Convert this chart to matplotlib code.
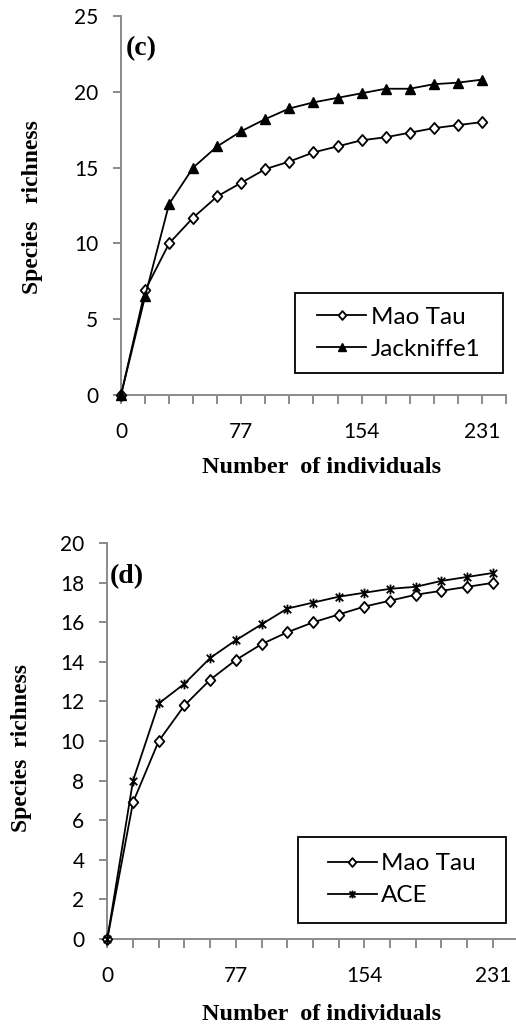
import matplotlib.pyplot as plt
from matplotlib.path import Path
from matplotlib.patches import Rectangle
from matplotlib.ticker import FixedLocator
import numpy as np

# Number of individuals (category positions on the x axis)
individuals = [0, 15.4, 30.8, 46.2, 61.6, 77, 92.4, 107.8, 123.2, 138.6,
               154, 169.4, 184.8, 200.2, 215.6, 231]
x_tick_labels = ["0", "77", "154", "231"]

# panel (c)
mao_tau_c = [0, 6.9, 10.0, 11.7, 13.1, 14.0, 14.9, 15.4, 16.0, 16.4,
             16.8, 17.0, 17.3, 17.6, 17.8, 18.0]
jackknife1 = [0, 6.5, 12.6, 15.0, 16.4, 17.4, 18.2, 18.9, 19.3, 19.6,
              19.9, 20.2, 20.2, 20.5, 20.6, 20.8]

# panel (d)
mao_tau_d = [0, 6.9, 10.0, 11.8, 13.1, 14.1, 14.9, 15.5, 16.0, 16.4,
             16.8, 17.1, 17.4, 17.6, 17.8, 18.0]
ace = [0, 8.0, 11.9, 12.9, 14.2, 15.1, 15.9, 16.7, 17.0, 17.3,
       17.5, 17.7, 17.8, 18.1, 18.3, 18.5]

SANS = "Lato"
SERIF = "Liberation Serif"
GREY = "#8a8a8a"

# asterisk marker like Excel's: an X plus a vertical bar
star = Path([(-1, -1), (1, 1), (-1, 1), (1, -1), (0, -1.3), (0, 1.3)],
            [Path.MOVETO, Path.LINETO, Path.MOVETO, Path.LINETO,
             Path.MOVETO, Path.LINETO])
# slightly tall diamond
diamond = Path([(0, 1.15), (1, 0), (0, -1.15), (-1, 0), (0, 1.15)],
               [Path.MOVETO, Path.LINETO, Path.LINETO, Path.LINETO,
                Path.CLOSEPOLY])


def style_axis(ax, ymax, ystep, xmax):
    step = individuals[1]
    ax.set_xlim(0, xmax)
    ax.set_ylim(0, ymax)
    ax.set_yticks(np.arange(0, ymax + 0.1, ystep))
    ticks = [i * step for i in range(17) if i * step <= xmax + 0.01]
    ax.xaxis.set_major_locator(FixedLocator(ticks))
    labels = []
    for i in range(len(ticks)):
        labels.append(x_tick_labels[i // 5] if i % 5 == 0 else "")
    ax.set_xticklabels(labels)
    for s in ("top", "right"):
        ax.spines[s].set_visible(False)
    for s in ("left", "bottom"):
        ax.spines[s].set_color(GREY)
        ax.spines[s].set_linewidth(1.4)
    ax.tick_params(axis="y", direction="out", length=5.5, width=1.4,
                   color=GREY, pad=11, labelsize=15)
    ax.tick_params(axis="x", direction="out", length=6.5, width=1.4,
                   color=GREY, pad=13, labelsize=15)
    for lab in ax.get_xticklabels() + ax.get_yticklabels():
        lab.set_fontfamily(SANS)


def boxed_legend(ax, box):
    x0, y0, w, h = box
    ax.add_patch(Rectangle((x0, y0), w, h, transform=ax.transAxes,
                           facecolor="white", edgecolor="black", lw=1.3,
                           zorder=4))
    leg = ax.legend(loc="center", bbox_to_anchor=(x0 + w / 2, y0 + h / 2),
                    prop={"family": SANS, "size": 17.5}, frameon=False,
                    handlelength=2.0, handletextpad=0.2, borderpad=0,
                    labelspacing=0.45, borderaxespad=0, markerscale=0.8)
    leg.set_zorder(5)


fig = plt.figure(figsize=(5.16, 10.30), dpi=100)

# ---- panel (c)
ax1 = fig.add_axes([0.2345, 0.6165, 0.746, 0.368])
ax1.plot(individuals, mao_tau_c, color="black", lw=1.3, marker=diamond,
         markersize=8, mfc="white", mec="black", mew=1.3,
         label="Mao Tau", clip_on=False, zorder=3)
ax1.plot(individuals, jackknife1, color="black", lw=1.3, marker="^",
         markersize=7, mfc="black", mec="black",
         label="Jackniffe1", clip_on=False, zorder=3)
style_axis(ax1, 25, 5, 16 * individuals[1])
ax1.text(0.013, 0.913, "(c)", transform=ax1.transAxes, fontfamily=SERIF,
         fontweight="bold", fontsize=20, ha="left", va="center")
ax1.text(-0.229, 0.496, "Species   richness", transform=ax1.transAxes,
         fontfamily=SERIF, fontweight="bold", fontsize=17, rotation=90,
         ha="center", va="center")
ax1.text(0.522, -0.206, "Number  of individuals", transform=ax1.transAxes,
         fontfamily=SERIF, fontweight="bold", fontsize=17.5, ha="center",
         va="baseline")
boxed_legend(ax1, (0.452, 0.058, 0.540, 0.211))

# ---- panel (d)
ax2 = fig.add_axes([0.208, 0.0886, 0.792, 0.3839])
ax2.plot(individuals, mao_tau_d, color="black", lw=1.3, marker=diamond,
         markersize=8, mfc="white", mec="black", mew=1.3,
         label="Mao Tau", clip_on=False, zorder=3)
ax2.plot(individuals, ace, color="black", lw=1.3, marker=star,
         markersize=7, mec="black", mew=1.3,
         label="ACE", clip_on=False, zorder=3)
style_axis(ax2, 20, 2, 15.9 * individuals[1])
ax2.text(0.007, 0.916, "(d)", transform=ax2.transAxes, fontfamily=SERIF,
         fontweight="bold", fontsize=20, ha="left", va="center")
ax2.text(-0.21, 0.4836, "Species  richness", transform=ax2.transAxes,
         fontfamily=SERIF, fontweight="bold", fontsize=17, rotation=90,
         ha="center", va="center")
ax2.text(0.524, -0.2056, "Number  of individuals", transform=ax2.transAxes,
         fontfamily=SERIF, fontweight="bold", fontsize=17.5, ha="center",
         va="baseline")
boxed_legend(ax2, (0.4666, 0.04, 0.509, 0.2175))

fig.savefig("out.png", dpi=100)
